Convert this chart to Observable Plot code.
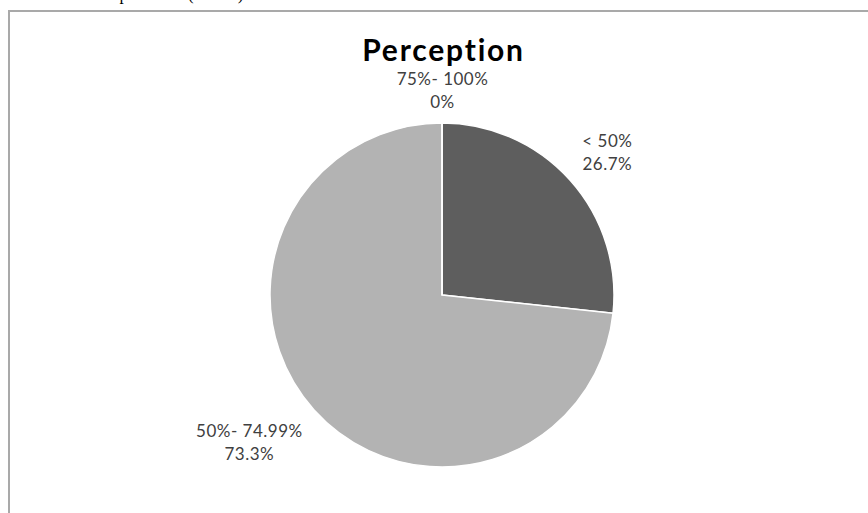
<!DOCTYPE html>
<html>
<head>
<meta charset="utf-8">
<script src="https://cdn.jsdelivr.net/npm/d3@7"></script>
<script src="https://cdn.jsdelivr.net/npm/@observablehq/plot@0.6"></script>
<style>
  html, body { margin: 0; padding: 0; background: #fff; overflow: hidden; }
  #page { position: relative; width: 868px; height: 513px; overflow: hidden; }
  #lead { position: absolute; left: 8px; top: -15px; font-family: "Liberation Serif", "DejaVu Serif", serif;
          font-size: 17px; word-spacing: 3px; color: #000; white-space: nowrap; }
  #box { position: absolute; left: 8px; top: 10px; width: 900px; height: 560px;
         border-top: 2px solid #a9a9a9; border-left: 2px solid #a9a9a9; box-sizing: border-box; }
  #chart { position: absolute; left: 0; top: 0; }
</style>
</head>
<body>
<div id="page">
  <div id="lead">Most of the respondents (73.3%)</div>
  <div id="box"></div>
  <div id="chart"></div>
</div>
<script>
// ---- data ----
const categories = ["< 50%", "50%- 74.99%", "75%- 100%"];
const shares = [26.7, 73.3, 0];
const shareLabels = ["26.7%", "73.3%", "0%"];
const chartTitle = "Perception";

// ---- style / layout ----
const sliceColors = ["#5e5e5e", "#b3b3b3", "#8c8c8c"];
const W = 868, H = 513;
const cx = 442, cy = 295, R = 172, labelR = 188;
const font = "Lato, 'Open Sans', sans-serif";
const labelSize = 17, labelSpacing = 0.5;

const color = Plot.scale({color: {type: "ordinal", domain: categories, range: sliceColors}});

const pie = d3.pie().sort(null).value(d => d.share).startAngle(0).endAngle(2 * Math.PI);
const slices = pie(categories.map((c, i) => ({category: c, share: shares[i], label: shareLabels[i]})));
const arc = d3.arc().innerRadius(0).outerRadius(R);

const ctx = document.createElement("canvas").getContext("2d");
ctx.font = `${labelSize}px ${font}`;
const measure = s => ctx.measureText(s).width + labelSpacing * s.length;

const labelData = slices.map(s => {
  const a = (s.startAngle + s.endAngle) / 2;
  const sx = Math.sin(a), cyv = Math.cos(a);
  const w = Math.max(measure(s.data.category), measure(s.data.label));
  const side = sx > 0.3 ? 1 : sx < -0.3 ? -1 : 0;
  return {
    text: `${s.data.category}\n${s.data.label}`,
    x: cx + labelR * sx + side * w / 2,
    y: cy - labelR * cyv,
    lineAnchor: cyv > 0 ? "bottom" : "top"
  };
});

function pieMark() {
  const g = d3.create("svg:g").attr("transform", `translate(${cx},${cy})`);
  g.selectAll("path").data(slices).join("path")
    .attr("d", arc)
    .attr("fill", d => color.apply(d.data.category))
    .attr("stroke", "#fff")
    .attr("stroke-width", 1.5)
    .attr("stroke-linejoin", "round");
  return g.node();
}

const chart = Plot.plot({
  width: W,
  height: H,
  margin: 0,
  x: {type: "identity", axis: null},
  y: {type: "identity", axis: null},
  marks: [
    pieMark,
    Plot.text([chartTitle], {
      frameAnchor: "top", dx: 9, dy: 39, text: d => d,
      fontFamily: font, fontSize: 30, fontWeight: "bold", fill: "#000"
    }),
    ...labelData.map(d => Plot.text([d], {
      x: "x", y: "y", text: "text",
      textAnchor: "middle", lineAnchor: d.lineAnchor, lineHeight: 23 / labelSize,
      fontFamily: font, fontSize: labelSize, fill: "#404040"
    }))
  ]
});
chart.style.background = "transparent";
chart.querySelectorAll("text").forEach(t => {
  t.style.letterSpacing = (t.getAttribute("font-weight") === "bold" || t.closest("[font-weight=bold]")) ? "1.8px" : labelSpacing + "px";
});
document.getElementById("chart").appendChild(chart);
</script>
</body>
</html>
